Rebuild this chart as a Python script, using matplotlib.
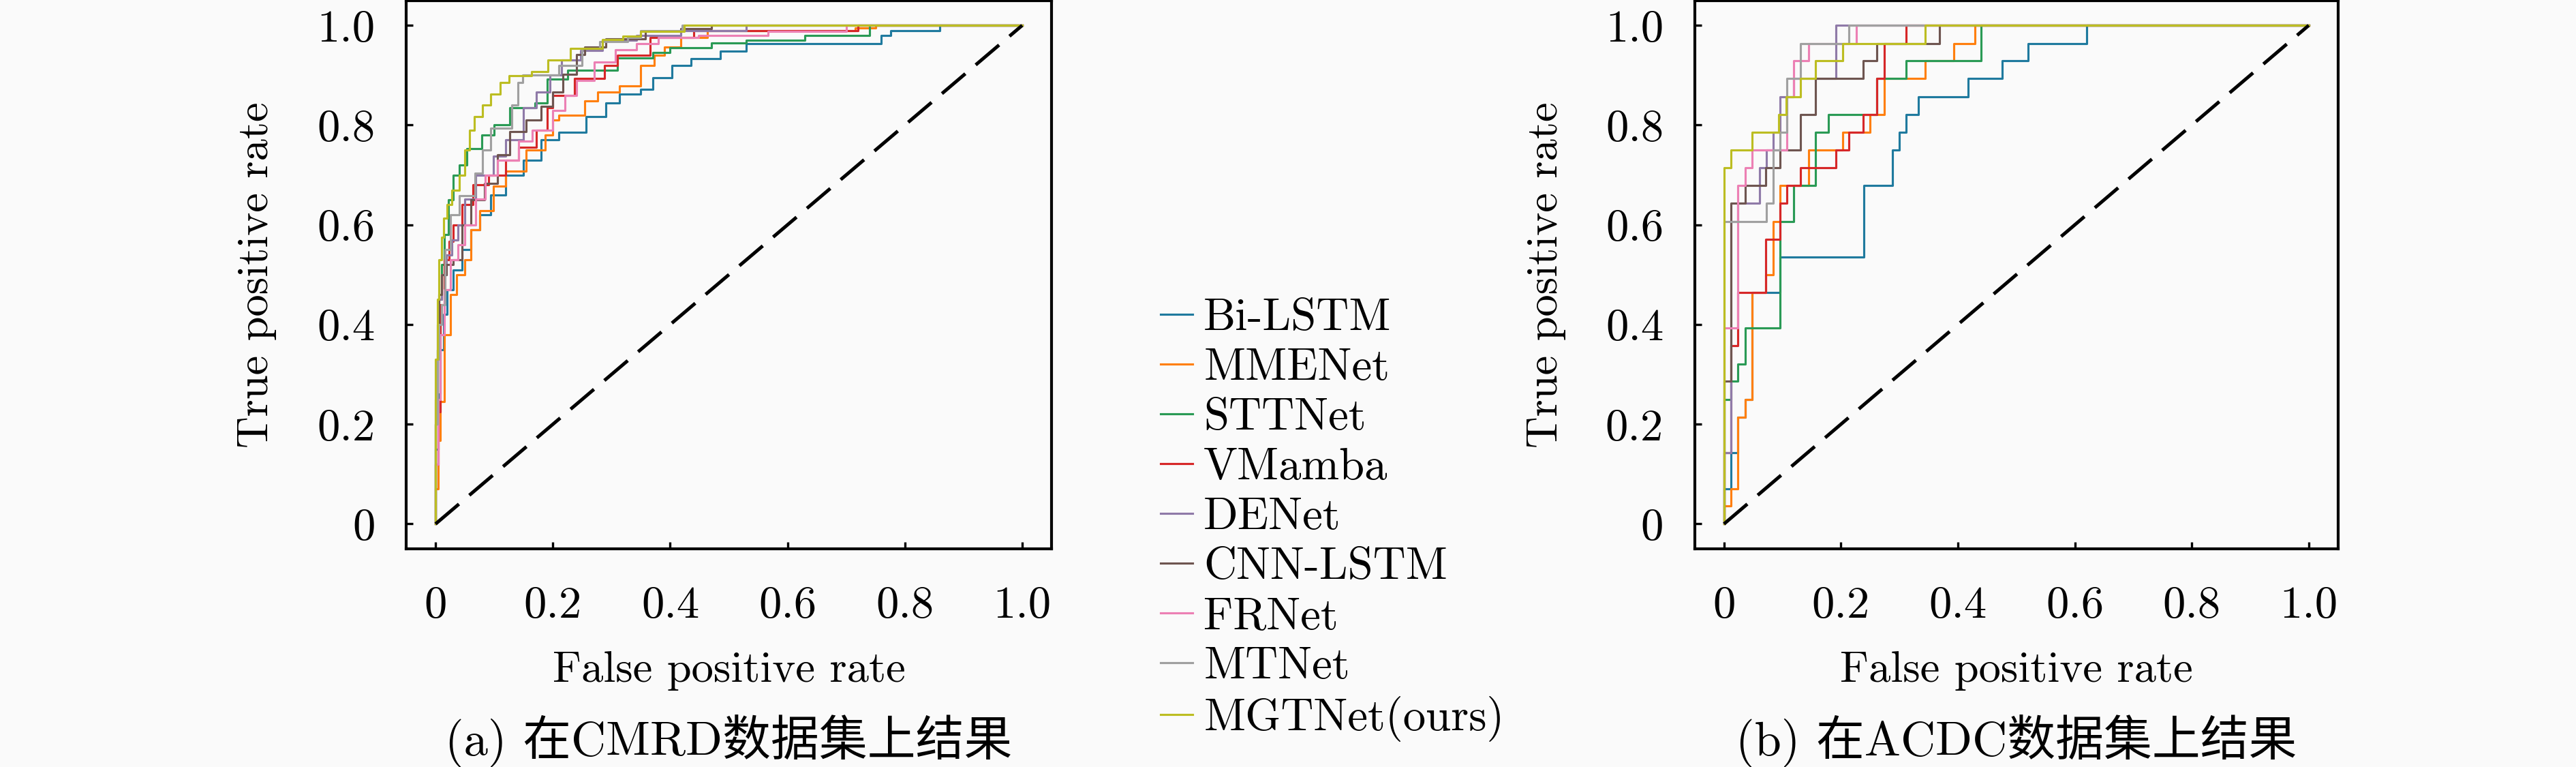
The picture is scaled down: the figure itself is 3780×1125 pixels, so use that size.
import matplotlib
matplotlib.use('Agg')
import matplotlib.pyplot as plt

plt.rcParams['font.family'] = ['cmr10', 'Noto Sans CJK SC', 'DejaVu Sans']
plt.rcParams['mathtext.fontset'] = 'cm'
plt.rcParams['axes.formatter.use_mathtext'] = True

# ---------------- data ----------------
models = ['Bi-LSTM', 'MMENet', 'STTNet', 'VMamba', 'DENet', 'CNN-LSTM',
          'FRNet', 'MTNet', 'MGTNet(ours)']
colors = ['#1f7a9e', '#ff7f0e', '#2a9a55', '#d62728', '#8f7aa8', '#6e5550',
          '#ec80b4', '#a0a0a0', '#bcbd22']

# CMRD dataset ROC (fpr, tpr) - level tpr[i] holds up to fpr[i]
cmrd_bilstm_fpr = [0, 0.004, 0.008, 0.014, 0.02, 0.03, 0.045, 0.06, 0.075, 0.094, 0.12, 0.15, 0.18, 0.21, 0.257, 0.29, 0.314, 0.35, 0.37, 0.403, 0.435, 0.486, 0.53, 0.76, 0.776, 0.86, 1.0]
cmrd_bilstm_tpr = [0, 0.15, 0.26, 0.35, 0.42, 0.47, 0.51, 0.55, 0.59, 0.62, 0.66, 0.70, 0.73, 0.77, 0.786, 0.817, 0.845, 0.862, 0.872, 0.895, 0.92, 0.933, 0.948, 0.963, 0.98, 0.99, 1.0]

cmrd_mmenet_fpr = [0, 0.004, 0.008, 0.015, 0.025, 0.036, 0.05, 0.06, 0.075, 0.098, 0.12, 0.154, 0.187, 0.2, 0.21, 0.254, 0.276, 0.314, 0.35, 0.373, 0.39, 0.418, 0.463, 0.716, 0.75, 1.0]
cmrd_mmenet_tpr = [0, 0.07, 0.167, 0.245, 0.38, 0.46, 0.50, 0.53, 0.59, 0.628, 0.677, 0.707, 0.75, 0.78, 0.81, 0.82, 0.848, 0.866, 0.878, 0.92, 0.94, 0.957, 0.976, 0.99, 0.995, 1.0]

cmrd_sttnet_fpr = [0, 0.003, 0.006, 0.01, 0.015, 0.022, 0.03, 0.04, 0.053, 0.079, 0.1, 0.127, 0.17, 0.19, 0.225, 0.31, 0.37, 0.40, 0.47, 0.53, 0.63, 0.74, 1.0]
cmrd_sttnet_tpr = [0, 0.2, 0.35, 0.45, 0.52, 0.58, 0.65, 0.70, 0.72, 0.753, 0.78, 0.80, 0.835, 0.845, 0.892, 0.91, 0.935, 0.945, 0.955, 0.965, 0.97, 0.98, 1.0]

cmrd_vmamba_fpr = [0, 0.004, 0.008, 0.015, 0.023, 0.03, 0.045, 0.064, 0.09, 0.12, 0.142, 0.172, 0.19, 0.2, 0.237, 0.288, 0.31, 0.366, 0.44, 0.72, 1.0]
cmrd_vmamba_tpr = [0, 0.12, 0.225, 0.44, 0.53, 0.567, 0.60, 0.64, 0.68, 0.70, 0.73, 0.756, 0.79, 0.835, 0.86, 0.894, 0.92, 0.94, 0.976, 0.99, 1.0]

cmrd_denet_fpr = [0, 0.003, 0.006, 0.01, 0.018, 0.028, 0.038, 0.05, 0.068, 0.098, 0.12, 0.15, 0.172, 0.195, 0.215, 0.247, 0.284, 0.343, 0.418, 0.53, 1.0]
cmrd_denet_tpr = [0, 0.2, 0.35, 0.45, 0.50, 0.54, 0.57, 0.60, 0.652, 0.70, 0.738, 0.77, 0.835, 0.866, 0.90, 0.93, 0.95, 0.97, 0.98, 0.99, 1.0]

cmrd_cnnlstm_fpr = [0, 0.003, 0.006, 0.01, 0.018, 0.03, 0.045, 0.06, 0.083, 0.105, 0.127, 0.154, 0.18, 0.2, 0.217, 0.24, 0.254, 0.29, 0.358, 0.418, 0.47, 1.0]
cmrd_cnnlstm_tpr = [0, 0.25, 0.40, 0.46, 0.50, 0.52, 0.53, 0.60, 0.65, 0.683, 0.74, 0.787, 0.81, 0.838, 0.866, 0.902, 0.942, 0.957, 0.973, 0.988, 0.994, 1.0]

cmrd_frnet_fpr = [0, 0.004, 0.008, 0.015, 0.025, 0.038, 0.05, 0.068, 0.085, 0.105, 0.142, 0.165, 0.2, 0.22, 0.24, 0.27, 0.306, 0.343, 0.38, 0.448, 0.567, 0.70, 1.0]
cmrd_frnet_tpr = [0, 0.12, 0.25, 0.38, 0.47, 0.53, 0.56, 0.60, 0.652, 0.70, 0.73, 0.768, 0.79, 0.83, 0.86, 0.89, 0.927, 0.951, 0.963, 0.976, 0.98, 0.988, 1.0]

cmrd_mtnet_fpr = [0, 0.003, 0.006, 0.01, 0.016, 0.025, 0.04, 0.067, 0.08, 0.094, 0.13, 0.14, 0.148, 0.21, 0.25, 0.28, 0.327, 0.35, 0.42, 1.0]
cmrd_mtnet_tpr = [0, 0.2, 0.33, 0.40, 0.44, 0.55, 0.62, 0.658, 0.703, 0.75, 0.794, 0.84, 0.885, 0.90, 0.92, 0.954, 0.968, 0.976, 0.99, 1.0]

cmrd_mgtnet_fpr = [0, 0.003, 0.006, 0.010, 0.014, 0.020, 0.028, 0.040, 0.050, 0.058, 0.066, 0.080, 0.094, 0.110, 0.125, 0.164, 0.191, 0.23, 0.284, 0.319, 0.35, 0.424, 1.0]
cmrd_mgtnet_tpr = [0, 0.33, 0.45, 0.53, 0.575, 0.613, 0.64, 0.67, 0.70, 0.75, 0.79, 0.817, 0.84, 0.862, 0.885, 0.899, 0.908, 0.931, 0.954, 0.972, 0.979, 0.988, 1.0]

# ACDC dataset ROC
acdc_bilstm_fpr = [0, 0.012, 0.024, 0.036, 0.048, 0.096, 0.239, 0.288, 0.300, 0.311, 0.332, 0.418, 0.476, 0.52, 0.62, 1.0]
acdc_bilstm_tpr = [0, 0.071, 0.143, 0.214, 0.25, 0.464, 0.536, 0.679, 0.75, 0.786, 0.821, 0.857, 0.893, 0.929, 0.964, 1.0]

acdc_mmenet_fpr = [0, 0.012, 0.024, 0.036, 0.048, 0.071, 0.084, 0.096, 0.145, 0.203, 0.25, 0.274, 0.344, 0.393, 0.429, 1.0]
acdc_mmenet_tpr = [0, 0.036, 0.071, 0.214, 0.25, 0.464, 0.5, 0.607, 0.679, 0.75, 0.786, 0.821, 0.893, 0.929, 0.964, 1.0]

acdc_sttnet_fpr = [0, 0.012, 0.024, 0.036, 0.096, 0.119, 0.156, 0.179, 0.261, 0.311, 0.44, 1.0]
acdc_sttnet_tpr = [0, 0.25, 0.286, 0.321, 0.393, 0.607, 0.679, 0.786, 0.821, 0.893, 0.929, 1.0]

acdc_vmamba_fpr = [0, 0.012, 0.024, 0.071, 0.096, 0.108, 0.131, 0.191, 0.214, 0.238, 0.261, 0.274, 0.311, 1.0]
acdc_vmamba_tpr = [0, 0.143, 0.357, 0.464, 0.571, 0.643, 0.679, 0.714, 0.75, 0.786, 0.821, 0.893, 0.964, 1.0]

acdc_denet_fpr = [0, 0.012, 0.024, 0.061, 0.073, 0.084, 0.096, 0.119, 0.191, 1.0]
acdc_denet_tpr = [0, 0.143, 0.607, 0.643, 0.714, 0.75, 0.786, 0.857, 0.893, 1.0]

acdc_cnnlstm_fpr = [0, 0.012, 0.036, 0.071, 0.096, 0.131, 0.156, 0.238, 0.261, 0.369, 1.0]
acdc_cnnlstm_tpr = [0, 0.286, 0.643, 0.679, 0.714, 0.75, 0.821, 0.893, 0.929, 0.964, 1.0]

acdc_frnet_fpr = [0, 0.024, 0.036, 0.048, 0.108, 0.119, 0.145, 0.226, 1.0]
acdc_frnet_tpr = [0, 0.393, 0.679, 0.714, 0.75, 0.857, 0.929, 0.964, 1.0]

acdc_mtnet_fpr = [0, 0.073, 0.084, 0.096, 0.108, 0.131, 0.214, 1.0]
acdc_mtnet_tpr = [0, 0.607, 0.643, 0.75, 0.786, 0.893, 0.964, 1.0]

acdc_mgtnet_fpr = [0, 0.012, 0.048, 0.094, 0.106, 0.131, 0.156, 0.203, 0.344, 1.0]
acdc_mgtnet_tpr = [0, 0.714, 0.75, 0.786, 0.821, 0.857, 0.893, 0.929, 0.964, 1.0]

tick_vals = [0, 0.2, 0.4, 0.6, 0.8, 1.0]
tick_labels = ['0', '0.2', '0.4', '0.6', '0.8', '1.0']
captions = ['(a) 在CMRD数据集上结果', '(b) 在ACDC数据集上结果']

cmrd = [(cmrd_bilstm_fpr, cmrd_bilstm_tpr), (cmrd_mmenet_fpr, cmrd_mmenet_tpr),
        (cmrd_sttnet_fpr, cmrd_sttnet_tpr), (cmrd_vmamba_fpr, cmrd_vmamba_tpr),
        (cmrd_denet_fpr, cmrd_denet_tpr), (cmrd_cnnlstm_fpr, cmrd_cnnlstm_tpr),
        (cmrd_frnet_fpr, cmrd_frnet_tpr), (cmrd_mtnet_fpr, cmrd_mtnet_tpr),
        (cmrd_mgtnet_fpr, cmrd_mgtnet_tpr)]
acdc = [(acdc_bilstm_fpr, acdc_bilstm_tpr), (acdc_mmenet_fpr, acdc_mmenet_tpr),
        (acdc_sttnet_fpr, acdc_sttnet_tpr), (acdc_vmamba_fpr, acdc_vmamba_tpr),
        (acdc_denet_fpr, acdc_denet_tpr), (acdc_cnnlstm_fpr, acdc_cnnlstm_tpr),
        (acdc_frnet_fpr, acdc_frnet_tpr), (acdc_mtnet_fpr, acdc_mtnet_tpr),
        (acdc_mgtnet_fpr, acdc_mgtnet_tpr)]

# ---------------- figure ----------------
bg = '#fafafa'
fig = plt.figure(figsize=(12.6, 3.75), dpi=300, facecolor=bg)

ax_rects = [[0.1577, 0.2844, 0.2505, 0.7150], [0.6579, 0.2844, 0.2497, 0.7150]]
handles = None
for k, (rect, data) in enumerate(zip(ax_rects, [cmrd, acdc])):
    ax = fig.add_axes(rect)
    ax.set_facecolor(bg)
    lines = []
    for (fpr, tpr), name, col in zip(data, models, colors):
        ln, = ax.plot(fpr, tpr, drawstyle='steps-pre', color=col, lw=0.75, label=name)
        lines.append(ln)
    ax.plot([0, 1], [0, 1], color='black', lw=1.2, linestyle=(0, (9, 4)))
    ax.set_xlim(-0.05, 1.05)
    ax.set_ylim(-0.05, 1.05)
    ax.set_xticks(tick_vals)
    ax.set_xticklabels(tick_labels)
    ax.set_yticks(tick_vals)
    ax.set_yticklabels(tick_labels)
    ax.tick_params(axis='both', direction='in', length=2.5, width=0.8, labelsize=16)
    ax.tick_params(axis='x', pad=13)
    ax.tick_params(axis='y', pad=11)
    for sp in ax.spines.values():
        sp.set_linewidth(1.0)
    ax.set_xlabel('False positive rate', fontsize=15.5)
    ax.set_ylabel('True positive rate', fontsize=15.5)
    ax.xaxis.set_label_coords(0.5, -0.186)
    ax.yaxis.set_label_coords(-0.2006, 0.5)
    cx = rect[0] + rect[2] / 2
    fig.text(cx, 0.034, captions[k], ha='center', va='center', fontsize=17)
    if handles is None:
        handles = lines

fig.legend(handles=handles, labels=models, loc='center left',
           bbox_to_anchor=(0.4505, 0.322), frameon=False, fontsize=16,
           handlelength=0.7, handletextpad=0.25, labelspacing=0.2, borderpad=0,
           borderaxespad=0)

fig.savefig('out.png', dpi=300, facecolor=bg)
